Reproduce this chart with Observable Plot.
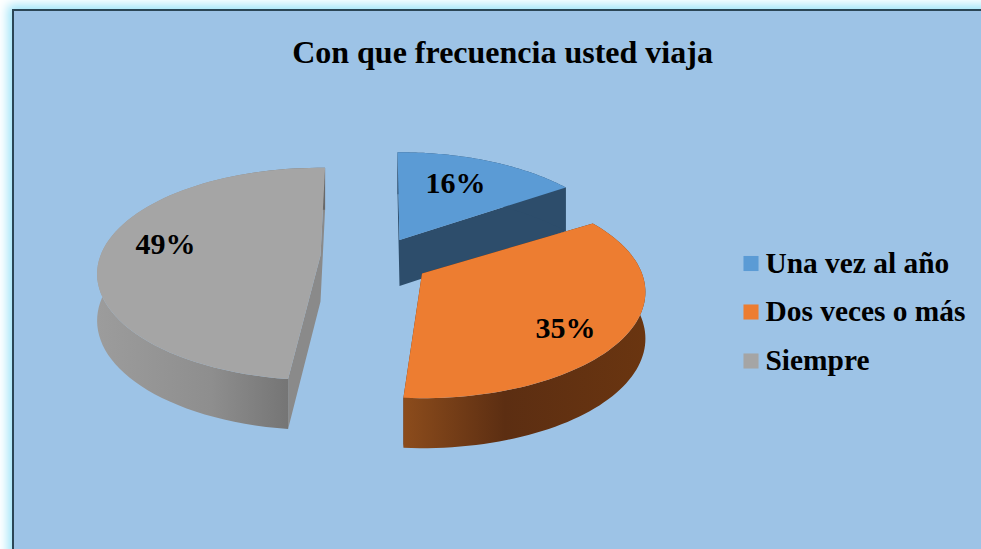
<!DOCTYPE html>
<html>
<head>
<meta charset="utf-8">
<script src="https://cdn.jsdelivr.net/npm/d3@7"></script>
<script src="https://cdn.jsdelivr.net/npm/@observablehq/plot@0.6"></script>
<style>
  html, body { margin: 0; padding: 0; background: #fff; overflow: hidden; }
  #panel { position: absolute; left: 12px; top: 9px; width: 990px; height: 570px; box-sizing: border-box;
    background: #9dc3e6; border: 2px solid #2b4656; box-shadow: 0 0 10px 4px #9be3f8; }
  #chart { position: absolute; left: 0; top: 0; }
  #chart svg { background: transparent !important; display: block; }
</style>
</head>
<body>
<div id="panel"></div>
<div id="chart"></div>
<script>
const titleText = "Con que frecuencia usted viaja";
const categories = ["Una vez al año", "Dos veces o más", "Siempre"];
const percents = [16, 35, 49];
const topColors = ["#5b9bd5", "#ed7d31", "#a5a5a5"];

// Layout of the exploded perspective pie (pixel space of the figure)
const layout = {
  startDeg: 1.4, R: 220, Rt: 103, k: 0.174, depth: 46,
  apex: [[399, 239.5], [421.5, 273], [320, 255]],
  twist: [[-2, -3], [-1, -1], [2, 0]],
  label: [[455, 183], [565, 328], [165, 244]],
  legendX: 750.5, legendY: [263, 311.5, 360.5], legendTextX: 765
};
const wallFill = ["#2d4d6b", "url(#wallOrange)", "url(#wallGray)"];
const faceFill = ["#2d4d6b", "#5e3012", "#8a8a8a"];

function project(i, tDeg, down) {
  const t = tDeg * Math.PI / 180, X = Math.sin(t), Yd = -Math.cos(t);
  const w = 1 / (1 - layout.k * Yd);
  const [ax, ay] = layout.apex[i];
  return { x: ax + layout.R * X * w, y: ay + layout.Rt * Yd * w + (down ? layout.depth + 4 * Yd : 0) };
}
function apexPoint(i, down) {
  const [ax, ay] = layout.apex[i];
  return { x: ax, y: ay + (down ? layout.depth : 0) };
}

let cum = layout.startDeg;
const slices = percents.map((p, i) => {
  const a0 = cum + layout.twist[i][0], a1 = cum + p * 3.6 + layout.twist[i][1];
  cum += p * 3.6;
  return { i, a0, a1 };
});
function arc(s, down) {
  const n = 72;
  return d3.range(n + 1).map(j => project(s.i, s.a0 + (s.a1 - s.a0) * j / n, down));
}
const topFace = s => [apexPoint(s.i), ...arc(s)];
const outerWall = s => [...arc(s), ...arc(s, true).reverse()];
const cutFace = s => [
  project(s.i, s.a1), apexPoint(s.i), project(s.i, s.a0),
  project(s.i, s.a0, true), apexPoint(s.i, true), project(s.i, s.a1, true)
];

const piece = (pts, fill) => Plot.line(pts, { x: "x", y: "y", fill, stroke: "none" });
const drawOrder = [2, 0, 1];
const sliceMarks = drawOrder.flatMap(i => {
  const s = slices[i];
  return [piece(cutFace(s), faceFill[i]), piece(outerWall(s), wallFill[i]), piece(topFace(s), topColors[i])];
});

function gradient(id, stops) {
  const g = d3.create("svg:linearGradient").attr("id", id).attr("x1", 0).attr("x2", 1).attr("y1", 0).attr("y2", 0);
  stops.forEach(([o, c]) => g.append("stop").attr("offset", o).attr("stop-color", c));
  return g.node();
}
const defsMark = () => {
  const d = d3.create("svg:defs");
  d.node().append(
    gradient("wallGray", [[0, "#9c9c9c"], [0.5, "#8e8e8e"], [1, "#696969"]]),
    gradient("wallOrange", [[0, "#8c4c1c"], [0.42, "#5c2e12"], [1, "#6a3510"]])
  );
  return d.node();
};

const serif = "'Liberation Serif', 'Times New Roman', serif";
const labels = percents.map((p, i) => ({ text: p + "%", x: layout.label[i][0], y: layout.label[i][1] }));
const legend = categories.map((c, i) => ({ c, color: topColors[i], y: layout.legendY[i] }));

const plot = Plot.plot({
  width: 981, height: 549, margin: 0,
  x: { domain: [0, 981], range: [0, 981], axis: null },
  y: { domain: [0, 549], range: [0, 549], axis: null },
  style: { background: "transparent" },
  marks: [
    defsMark,
    ...sliceMarks,
    Plot.text(labels, { x: "x", y: "y", text: "text", fontFamily: serif, fontWeight: "bold", fontSize: 30, fill: "#000" }),
    Plot.text([titleText], { x: 502, y: 52, text: d => d, fontFamily: serif, fontWeight: "bold", fontSize: 32, fill: "#000" }),
    Plot.dot(legend, { x: layout.legendX, y: "y", symbol: "square", r: 8.5, fill: "color", stroke: "none" }),
    Plot.text(legend, { x: layout.legendTextX, y: "y", text: "c", textAnchor: "start", fontFamily: serif, fontWeight: "bold", fontSize: 29.4, fill: "#000" })
  ]
});
document.getElementById("chart").append(plot);
</script>
</body>
</html>
